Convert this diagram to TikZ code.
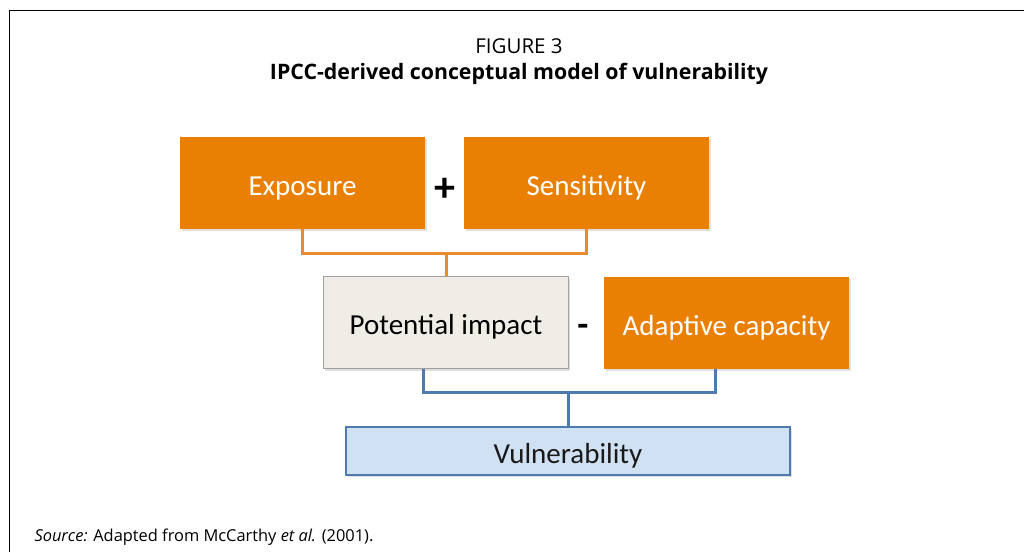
\documentclass[tikz,border=0pt]{standalone}
\usepackage{fontspec}
\setmainfont{Carlito}
\newfontfamily\titlefont{Open Sans}
\usetikzlibrary{shadows}
\definecolor{orng}{RGB}{233,128,4}
\definecolor{orline}{RGB}{234,138,46}
\definecolor{beige}{RGB}{240,237,230}
\definecolor{beigeb}{RGB}{160,160,160}
\definecolor{bluef}{RGB}{208,225,243}
\definecolor{blueb}{RGB}{78,122,174}
\tikzset{
  box/.style={rectangle, minimum width=245pt, minimum height=92pt, inner sep=0pt,
    font=\fontsize{29}{32}\selectfont, text height=24pt, text depth=0pt,
    drop shadow={opacity=0.25, shadow xshift=1.5pt, shadow yshift=-2pt}},
  obox/.style={box, fill=orng, text=white},
  pbox/.style={box, fill=beige, draw=beigeb, line width=1pt, text=black},
  vbox/.style={box, fill=bluef, draw=blueb, line width=2.5pt, minimum width=444pt, minimum height=48pt, text=black!90},
  oline/.style={draw=orline, line width=3pt},
  bline/.style={draw=blueb, line width=3pt},
  op/.style={font=\fontsize{42}{46}\selectfont\bfseries, text=black},
}
\begin{document}
\begin{tikzpicture}[x=1pt,y=-1pt]
\useasboundingbox (0,0) rectangle (1024,552);
\draw[line width=1.2pt] (9.5,552) -- (9.5,10.5) -- (1024,10.5);
\node[font=\titlefont\fontsize{20.5}{24}\selectfont] (fig) at (519,46) {FIGURE 3};
\node[font=\titlefont\fontsize{21.3}{24}\selectfont\bfseries] (title) at (519,74) {IPCC-derived conceptual model of vulnerability};
\node[obox] (exp) at (302.5,183) {Exposure};
\node[obox] (sen) at (586.5,183) {Sensitivity};
\node[op] (plus) at (445,190) {+};
\node[pbox] (pot) at (446,322.5) {Potential impact};
\node[obox] (ada) at (726.5,323) {Adaptive capacity};
\node[op, font=\fontsize{36}{40}\selectfont\bfseries] (minus) at (583,330) {-};
\node[vbox] (vul) at (568,451) {Vulnerability};
\coordinate (oh) at (446,253);
\coordinate (bh) at (568,392);
\draw[oline] (exp.south) |- (oh) -| (sen.south);
\draw[oline] (oh) -- (pot.north);
\draw[bline] ([xshift=-23pt]pot.south) |- (bh) -| ([xshift=-11.5pt]ada.south);
\draw[bline] (bh) -- (vul.north);
\node[anchor=west, font=\titlefont\fontsize{16.4}{19}\selectfont] (src) at (31,537) {\textit{Source:} Adapted from McCarthy \textit{et al.} (2001).};
\end{tikzpicture}
\end{document}
